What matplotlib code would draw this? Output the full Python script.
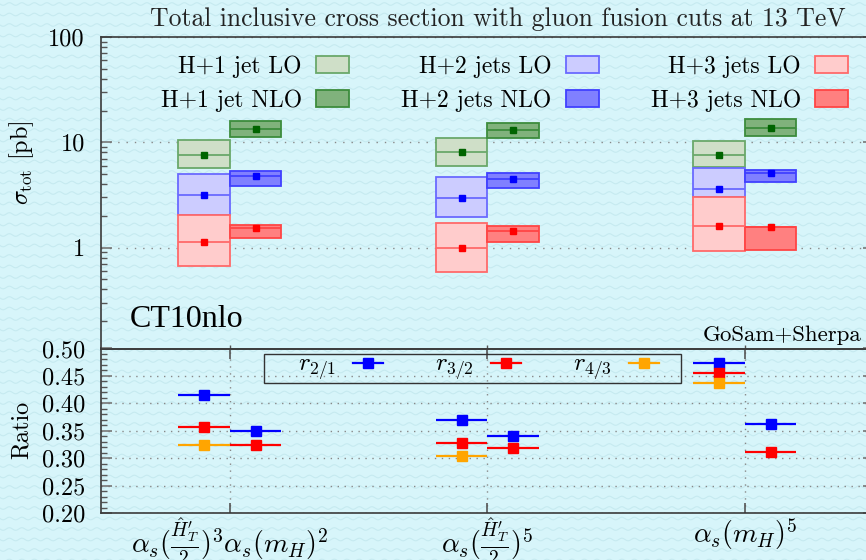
import numpy as np
import matplotlib.pyplot as plt
from matplotlib.patches import Rectangle, Patch
from matplotlib.lines import Line2D
from matplotlib.ticker import FixedLocator, MultipleLocator, LogLocator, NullFormatter

plt.rcParams['font.family'] = 'serif'
plt.rcParams['font.serif'] = ['cmr10']
plt.rcParams['mathtext.fontset'] = 'cm'
plt.rcParams['axes.unicode_minus'] = False
plt.rcParams['axes.formatter.use_mathtext'] = True

# scale choices (x categories)
scales = [r'$\alpha_s(\frac{\hat{H}^\prime_T}{2})^3\alpha_s(m_H)^2$',
          r'$\alpha_s(\frac{\hat{H}^\prime_T}{2})^5$',
          r'$\alpha_s(m_H)^5$']
xpos = np.array([1, 2, 3])

# total cross sections [pb]: central value and scale band (low, high)
h1_lo = [7.56, 8.0, 7.5]
h1_lo_band = [(5.65, 10.4), (5.95, 10.96), (5.77, 10.3)]
h1_nlo = [13.5, 13.2, 13.8]
h1_nlo_band = [(11.2, 15.9), (11.1, 15.2), (11.5, 16.5)]
h2_lo = [3.16, 2.96, 3.57]
h2_lo_band = [(2.05, 5.03), (1.95, 4.68), (3.02, 5.69)]
h2_nlo = [4.74, 4.51, 5.06]
h2_nlo_band = [(3.84, 5.37), (3.68, 5.1), (4.16, 5.41)]
h3_lo = [1.14, 0.98, 1.62]
h3_lo_band = [(0.675, 2.02), (0.58, 1.71), (0.92, 3.02)]
h3_nlo = [1.55, 1.44, 1.58]
h3_nlo_band = [(1.22, 1.63), (1.13, 1.59), (0.957, 1.58)]

# ratios
r21_lo = [0.415, 0.370, 0.474]
r32_lo = [0.358, 0.328, 0.4545]
r43_lo = [0.325, 0.304, 0.438]
r21_nlo = [0.350, 0.340, 0.363]
r32_nlo = [0.324, 0.319, 0.312]

W, H = 866, 560
fig = plt.figure(figsize=(W / 100, H / 100), dpi=100)
fig.patch.set_facecolor('#d7f5fa')

# wavy paper texture
xs = np.linspace(0, W, 900)
for yy in np.arange(4, H + 10, 10.5):
    ys = yy + 1.3 * np.sin(2 * np.pi * xs / 12.5)
    fig.add_artist(Line2D(xs / W, 1 - ys / H, transform=fig.transFigure,
                          color='#c6eaf0', lw=0.8, zorder=-5))

left = 101 / W
width = 772.5 / W
ax = fig.add_axes([left, 1 - 348.5 / H, width, (348.5 - 37) / H])
ax2 = fig.add_axes([left, 1 - 513.3 / H, width, (513.3 - 348.5) / H])
for a in (ax, ax2):
    a.set_facecolor('none')
    for s in a.spines.values():
        s.set_color('#3a3a3a')
        s.set_linewidth(1.2)

procs = [
    (h1_lo, h1_lo_band, h1_nlo, h1_nlo_band, '#006400',
     ('#cfdfc8', '#6aa86a'), ('#80b27c', '#3c8c3c'), 'H+1 jet'),
    (h2_lo, h2_lo_band, h2_nlo, h2_nlo_band, '#0000ff',
     ('#ccccff', '#6a6aff'), ('#8080ff', '#4040ff'), 'H+2 jets'),
    (h3_lo, h3_lo_band, h3_nlo, h3_nlo_band, '#ff0000',
     ('#ffcccc', '#ff6a6a'), ('#ff8080', '#ff4545'), 'H+3 jets'),
]

handles = []
for lo, lo_band, nlo, nlo_band, mcol, lo_col, nlo_col, name in procs:
    for cen, band, off, (fc, ec) in ((lo, lo_band, -0.2, lo_col), (nlo, nlo_band, 0.0, nlo_col)):
        band = np.array(band)
        ax.bar(xpos + off, band[:, 1] - band[:, 0], bottom=band[:, 0], width=0.2,
               align='edge', facecolor=fc, edgecolor=ec, linewidth=1.3, zorder=2)
        ax.hlines(cen, xpos + off, xpos + off + 0.2, color=ec, lw=1.3, zorder=3)
        ax.plot(xpos + off + 0.1, cen, 's', color=mcol, ms=4.5, zorder=4)
    handles.append((Patch(facecolor=lo_col[0], edgecolor=lo_col[1], lw=1.3), name + ' LO'))
    handles.append((Patch(facecolor=nlo_col[0], edgecolor=nlo_col[1], lw=1.3), name + ' NLO'))

ax.set_yscale('log')
ax.set_ylim(0.11, 100)
ax.set_xlim(0.5, 3.5)
ax.yaxis.set_major_locator(FixedLocator([1, 10, 100]))
ax.set_yticklabels(['1', '10', '100'])
ax.yaxis.set_minor_locator(LogLocator(subs=np.arange(2, 10)))
ax.yaxis.set_minor_formatter(NullFormatter())
ax.set_xticks(xpos)
ax.set_xticklabels([])
ax.tick_params(axis='y', which='major', direction='in', length=8, width=1.2,
               color='#777777', labelsize=17.5, pad=11.5, left=True, right=True)
ax.tick_params(axis='y', which='minor', direction='in', length=4, width=1.0,
               color='#555555', left=True, right=True)
ax.tick_params(axis='x', which='major', direction='in', length=3, width=1.0,
               color='#555555', bottom=True, top=False)
ax.yaxis.grid(True, which='major', ls=(0, (1, 5)), color='#888888', lw=1.0)

ax.legend([h for h, l in handles], [l for h, l in handles], ncol=3,
          markerfirst=False, frameon=False, fontsize=17,
          loc='upper right', bbox_to_anchor=(848 / W, 1 - 55 / H),
          bbox_transform=fig.transFigure, borderpad=0, borderaxespad=0,
          handlelength=1.4, handleheight=0.72, handletextpad=0.6,
          labelspacing=0.5, columnspacing=2.2)

# ratio panel
ratio_sets = [
    (r21_lo, r21_nlo, '#0000ff', r'$r_{2/1}$'),
    (r32_lo, r32_nlo, '#ff0000', r'$r_{3/2}$'),
    (r43_lo, None, '#ffa500', r'$r_{4/3}$'),
]
rhandles = []
for lo, nlo, col, lab in ratio_sets:
    ax2.errorbar(xpos - 0.1, lo, xerr=0.1, fmt='s', color=col, ms=6.5,
                 elinewidth=1.6, capsize=0, zorder=3)
    if nlo is not None:
        ax2.errorbar(xpos + 0.1, nlo, xerr=0.1, fmt='s', color=col, ms=6.5,
                     elinewidth=1.6, capsize=0, zorder=3)
    rhandles.append(Line2D([], [], color=col, marker='s', ms=6.5, lw=1.6))

ax2.set_xlim(0.5, 3.5)
ax2.set_ylim(0.2, 0.5)
ax2.yaxis.set_major_locator(MultipleLocator(0.05))
ax2.yaxis.set_minor_locator(MultipleLocator(0.01))
ax2.set_yticklabels([f'{v:.2f}' for v in ax2.get_yticks()])
ax2.set_xticks(xpos)
ax2.set_xticklabels(scales)
ax2.tick_params(axis='y', which='major', direction='in', length=8, width=1.2,
                color='#777777', labelsize=17.5, pad=11.5, left=True, right=True)
ax2.tick_params(axis='y', which='minor', direction='in', length=4, width=1.0,
                color='#555555', left=True, right=True)
ax2.tick_params(axis='x', which='major', direction='in', length=7, width=1.2,
                color='#555555', bottom=True, top=True, labelsize=20, pad=2.5)
ax2.grid(True, which='major', ls=(0, (1, 4)), color='#888888', lw=1.0)

ax2.legend(rhandles, [h for _, _, _, h in ratio_sets], ncol=3, markerfirst=False,
           frameon=False, fontsize=18, loc='center left',
           bbox_to_anchor=(298 / W, 1 - 369 / H), bbox_transform=fig.transFigure,
           borderpad=0, borderaxespad=0, handlelength=1.2, handletextpad=0.68,
           columnspacing=2.08)
fig.add_artist(Rectangle((264 / W, 1 - 383 / H), 417 / W, 29 / H, fill=False,
                         edgecolor='#333333', lw=1.0, transform=fig.transFigure))

fig.text(498 / W, 1 - 19 / H, 'Total inclusive cross section with gluon fusion cuts at 13 TeV',
         ha='center', va='center', fontsize=18.5, color='#222222')
fig.text(22 / W, 1 - 163 / H, r'$\sigma_{\rm tot}$ [pb]', rotation=90,
         ha='center', va='center', fontsize=17.5)
fig.text(22 / W, 1 - 430 / H, 'Ratio', rotation=90, ha='center', va='center', fontsize=17.5)
fig.text(861 / W, 1 - 335 / H, 'GoSam+Sherpa', ha='right', va='center', fontsize=16.5)
fig.text(130 / W, 1 - 327 / H, 'CT10nlo', ha='left', va='baseline', fontsize=23,
         family='Liberation Serif')

fig.savefig('out.png', dpi=100, facecolor=fig.get_facecolor())
